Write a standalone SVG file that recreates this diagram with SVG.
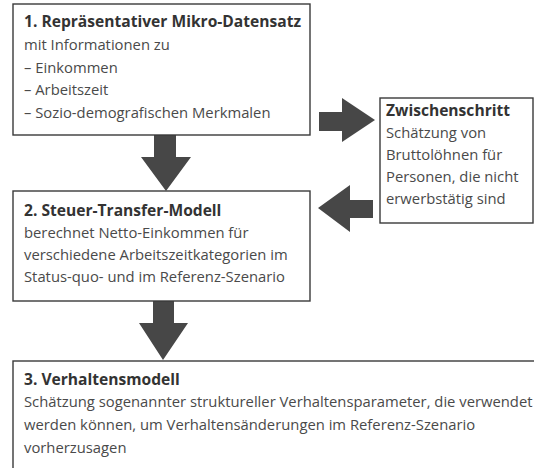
<svg xmlns="http://www.w3.org/2000/svg" width="534" height="468" viewBox="0 0 534 468">
<style>
.box{fill:#fff;stroke:#3a3a3a;stroke-width:1.4}
.t{font-family:"Open Sans","Noto Sans",sans-serif;font-size:15.6px;fill:#333;font-weight:bold}
.b{font-family:"Open Sans","Noto Sans",sans-serif;font-size:14.8px;fill:#4a4a4a}
.arr{fill:#474747}
</style>
<rect width="534" height="468" fill="#fff"/>
<g id="connectors">
<polygon class="arr" points="154,135 176,135 176,157 191,157 166,191 141,157 154,157"/>
<polygon class="arr" points="153,301 174,301 174,323 188,323 163,360 139,323 153,323"/>
<polygon class="arr" points="319,112 342,112 342,98 375,120 342,142 342,131 319,131"/>
<polygon class="arr" points="373,200 350,200 350,185 318,208 350,232 350,218 373,218"/>
</g>
<g id="node1">
<rect class="box" x="13" y="4" width="297" height="131"/>
<text class="t" x="24" y="27">1. Repräsentativer Mikro-Datensatz</text>
<text class="b" x="24" y="50">mit Informationen zu</text>
<text class="b" x="24" y="73">– Einkommen</text>
<text class="b" x="24" y="95">– Arbeitszeit</text>
<text class="b" x="24" y="118">– Sozio-demografischen Merkmalen</text>
</g>
<g id="node_zwischen">
<rect class="box" x="380" y="98" width="153" height="125"/>
<text class="t" x="386" y="116">Zwischenschritt</text>
<text class="b" x="386" y="138">Schätzung von</text>
<text class="b" x="386" y="160">Bruttolöhnen für</text>
<text class="b" x="386" y="182">Personen, die nicht</text>
<text class="b" x="386" y="204">erwerbstätig sind</text>
</g>
<g id="node2">
<rect class="box" x="13" y="191" width="297" height="110"/>
<text class="t" x="24" y="216">2. Steuer-Transfer-Modell</text>
<text class="b" x="24" y="238">berechnet Netto-Einkommen für</text>
<text class="b" x="24" y="260">verschiedene Arbeitszeitkategorien im</text>
<text class="b" x="24" y="282">Status-quo- und im Referenz-Szenario</text>
</g>
<g id="node3">
<rect class="box" x="13" y="361" width="540" height="130"/>
<text class="t" x="24" y="385">3. Verhaltensmodell</text>
<text class="b" x="24" y="407">Schätzung sogenannter struktureller Verhaltensparameter, die verwendet</text>
<text class="b" x="24" y="430">werden können, um Verhaltensänderungen im Referenz-Szenario</text>
<text class="b" x="24" y="453">vorherzusagen</text>
</g>
</svg>
